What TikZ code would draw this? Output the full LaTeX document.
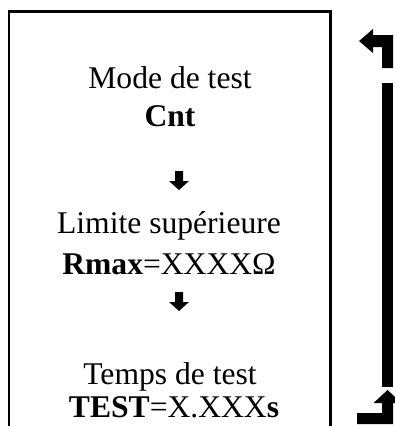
\documentclass[tikz,border=0pt]{standalone}
\usepackage{fontspec}
\setmainfont{Liberation Serif}
\begin{document}
\begin{tikzpicture}[x=1bp,y=-1bp,
  label/.style={anchor=base,inner sep=0pt,font=\fontsize{31.6bp}{38bp}\selectfont},
  frame/.style={line width=2.5bp},
  solid arrow/.style={fill=black,draw=none}]
\useasboundingbox (0,0) rectangle (395,426);
\clip (0,0) rectangle (395,426);

% open frame around the steps
\draw[frame] (9,430) -- (9,11.5) -- (330.5,11.5) -- (330.5,430);

% step texts
\node[label] (mode)   at (170,88)  {Mode de test};
\node[label] (cnt)    at (170,126) {\textbf{Cnt}};
\node[label] (limite) at (169,233) {Limite supérieure};
\node[label] (rmax)   at (169,274) {\textbf{Rmax}=XXXX\symbol{"03A9}};
\node[label] (temps)  at (170,384) {Temps de test};
\node[label] (test)   at (174,417) {\textbf{TEST}=X.XXX\textbf{s}};

% heavy down arrows between steps
\newcommand{\downarrowshape}[2]{%
  \fill[solid arrow] (#1-4,#2) -- (#1+4,#2) -- (#1+4,#2+10) -- (#1+10,#2+10)
    -- (#1,#2+19) -- (#1-10,#2+10) -- (#1-4,#2+10) -- cycle;}
\downarrowshape{179}{171}
\downarrowshape{179}{292}

% loop-back bar on the right
\fill[solid arrow] (382,68) -- (382,47) -- (373,47) -- (373,53) -- (359,41)
  -- (373,29) -- (373,35) -- (393,35) -- (393,68) -- cycle;
\fill[solid arrow] (382,83) rectangle (393,387);
\fill[solid arrow] (357,424) -- (357,413) -- (382,413) -- (382,403) -- (373.5,403)
  -- (387.5,390) -- (401.5,403) -- (393,403) -- (393,424) -- cycle;
\end{tikzpicture}
\end{document}
